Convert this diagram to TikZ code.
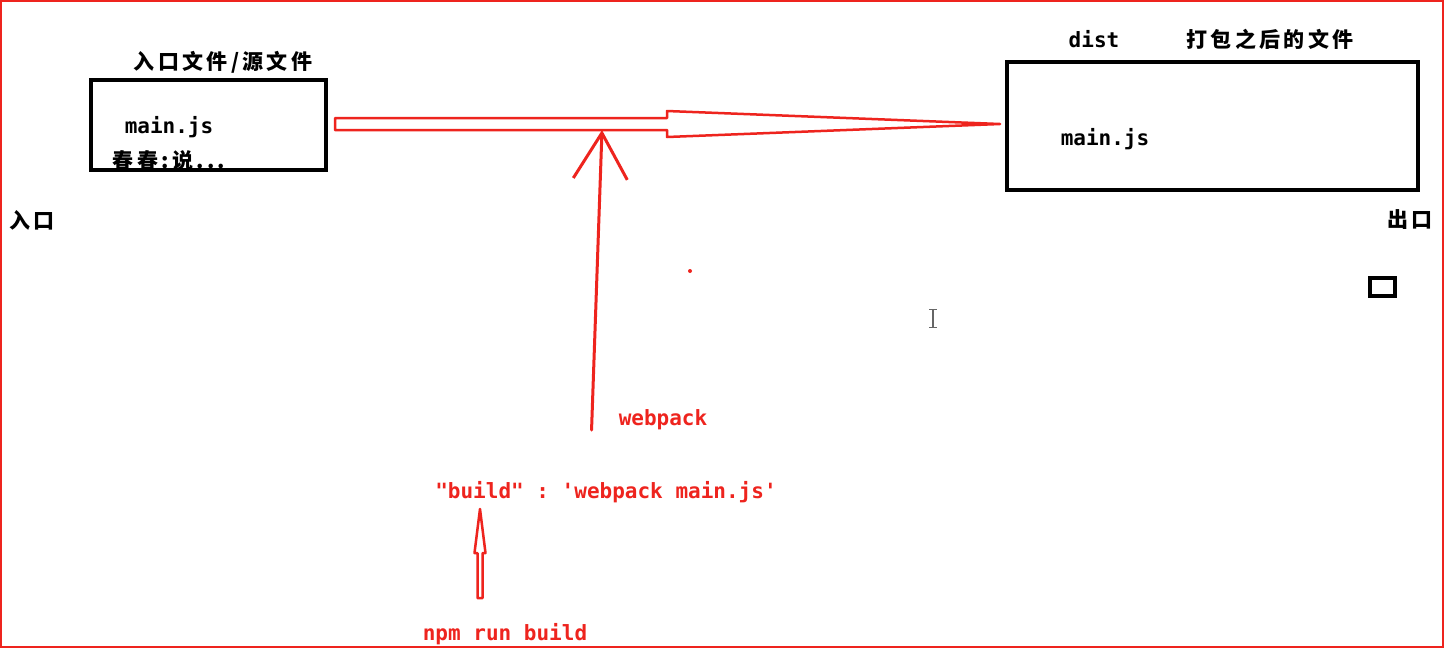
\documentclass[tikz,border=0pt]{standalone}
\usepackage{fontspec}
\setmonofont{DejaVu Sans Mono}
\newfontfamily\cjk[LetterSpace=16]{Noto Sans CJK SC}
\usetikzlibrary{arrows.meta,calc}
\definecolor{penred}{RGB}{238,36,30}

\begin{document}
\begin{tikzpicture}[x=1pt,y=-1pt,
  filebox/.style={draw=black, line width=4pt, inner sep=0pt},
  hanzi/.style={inner sep=0pt, font=\cjk\bfseries\fontsize{21}{21}\selectfont},
  code/.style={inner sep=0pt, font=\ttfamily\bfseries\fontsize{21}{21}\selectfont},
  redcode/.style={code, text=penred},
  redpen/.style={draw=penred, line width=3pt, line join=round, line cap=round}]

      % page and the red frame of the screen grab
      \useasboundingbox (0,0) rectangle (1444,649);
      \fill[white] (0,0) rectangle (1444,649);
      \draw[penred, line width=2pt] (1,1) rectangle (1443,647);

      % The source box on the left.
      \node[filebox, minimum width=235pt, minimum height=90pt] (src) at (208.5,125) {};
      \node[hanzi] (srctitle) at (223,62) {入口文件/源文件};
      \node[code] (srcfile) at (169,127) {main.js};
      \node[hanzi] (srcnote) at (169,161) {春春:说...};
      \node[hanzi] (inlbl) at (32,220) {入口};

      % The output box on the right.
      \node[filebox, minimum width=411pt, minimum height=128pt] (dst) at (1212.5,126) {};
      \node[code] (disttitle) at (1094,39) {dist};
      \node[hanzi] (distdesc) at (1270,39) {打包之后的文件};
      \node[code] (dstfile) at (1105,139) {main.js};
      \node[hanzi] (outlbl) at (1410,220) {出口};
      \node[filebox, minimum width=25pt, minimum height=18pt] (tinybox) at (1382.5,287) {};

      % The wide hollow arrow from the source to the output.
      \coordinate (shaftL) at ($(src.east)+(7,-1)$);
      \coordinate (tip) at ($(dst.west)+(-5,-2)$);
      \draw[redpen, line width=2.5pt] ($(shaftL)+(0,-6)$) -- ($(shaftL)+(332,-6)$)
      -- ($(shaftL)+(332,-13)$) -- (tip) -- ($(shaftL)+(332,13)$)
      -- ($(shaftL)+(332,6)$) -- ($(shaftL)+(0,6)$) -- cycle;

      % webpack pushes up into the arrow.
      \node[redcode] (webpack) at (663,420) {webpack};
      \coordinate (wpfoot) at ($(webpack.west)+(-27,10)$);
      \coordinate (wptip) at ($(shaftL)+(267,6)$);
      \draw[redpen, -{Straight Barb[length=46pt, width=54pt]}] (wpfoot) -- (wptip);

      % The npm script and the command that runs it.
      \node[redcode] (buildcfg) at (606,492) {"build" : 'webpack main.js'};
      \node[redcode] (npmcmd) at (505,634) {npm run build};
      \coordinate (bfoot) at (480,598);
      \coordinate (btip) at (480,509);
      \draw[redpen, line width=2.5pt] ($(bfoot)+(-2.5,0)$) -- ($(bfoot)+(-2.5,-45)$)
      -- ($(bfoot)+(-5.5,-45)$) -- (btip) -- ($(bfoot)+(5.5,-45)$)
      -- ($(bfoot)+(2.5,-45)$) -- ($(bfoot)+(2.5,0)$) -- cycle;

      % stray marks of the screen grab
      \fill[penred] (690,271) circle (2pt);
      \draw[gray!80!black, line width=1.2pt] (933,310) -- (933,327)
      (929,309.5) -- (937,309.5) (929,327.5) -- (937,327.5);
\end{tikzpicture}
\end{document}
